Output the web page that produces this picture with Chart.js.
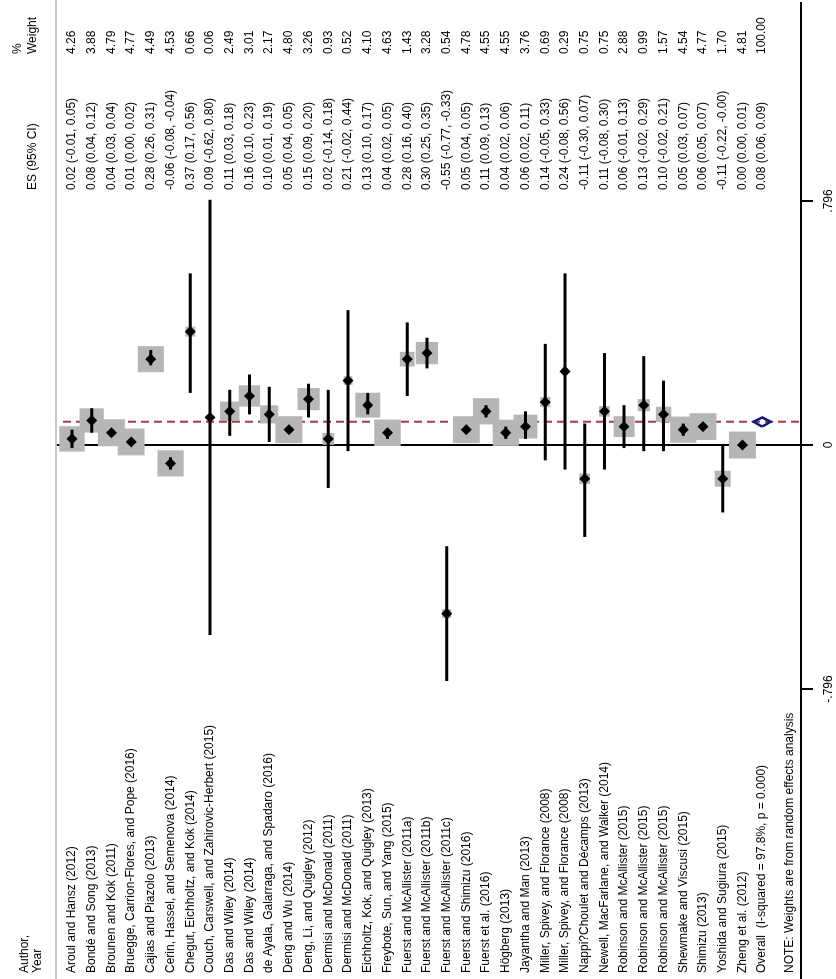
<!DOCTYPE html>
<html>
<head>
<meta charset="utf-8">
<script src="https://cdn.jsdelivr.net/npm/chart.js@4.4.1/dist/chart.umd.min.js"></script>
<style>
  html, body { margin: 0; padding: 0; background: #fff; overflow: hidden; }
  /* the plot is drawn as a normal forest plot and then turned a quarter turn */
  #wrap {
    position: absolute; left: 0; top: 0;
    width: 979px; height: 836px;
    transform-origin: 0 0;
    transform: translateY(979px) rotate(-90deg);
  }
</style>
</head>
<body>
<div id="wrap"><canvas id="forestCanvas" width="979" height="836"></canvas></div>
<script>
// ---- data ----
const studies = [
  'Aroul and Hansz (2012)',
  'Bondé and Song (2013)',
  'Brounen and Kok (2011)',
  'Bruegge, Carrion-Flores, and Pope (2016)',
  'Cajias and Piazolo (2013)',
  'Cerin, Hassel, and Semenova (2014)',
  'Chegut, Eichholtz, and Kok (2014)',
  'Couch, Carswell, and Zahirovic-Herbert (2015)',
  'Das and Wiley (2014)',
  'Das and Wiley (2014)',
  'de Ayala, Galarraga, and Spadaro (2016)',
  'Deng and Wu (2014)',
  'Deng, Li, and Quigley (2012)',
  'Dermisi and McDonald (2011)',
  'Dermisi and McDonald (2011)',
  'Eichholtz, Kok, and Quigley (2013)',
  'Freybote, Sun, and Yang (2015)',
  'Fuerst and McAllister (2011a)',
  'Fuerst and McAllister (2011b)',
  'Fuerst and McAllister (2011c)',
  'Fuerst and Shimizu (2016)',
  'Fuerst et al. (2016)',
  'Högberg (2013)',
  'Jayantha and Man (2013)',
  'Miller, Spivey, and Florance (2008)',
  'Miller, Spivey, and Florance (2008)',
  'Nappi?Choulet and Décamps (2013)',
  'Newell, MacFarlane, and Walker (2014)',
  'Robinson and McAllister (2015)',
  'Robinson and McAllister (2015)',
  'Robinson and McAllister (2015)',
  'Shewmake and Viscusi (2015)',
  'Shimizu (2013)',
  'Yoshida and Sugiura (2015)',
  'Zheng et al. (2012)'
];
const es =      [0.02, 0.08, 0.04, 0.01, 0.28, -0.06, 0.37, 0.09, 0.11, 0.16, 0.10, 0.05, 0.15, 0.02, 0.21, 0.13, 0.04, 0.28, 0.30, -0.55, 0.05, 0.11, 0.04, 0.06, 0.14, 0.24, -0.11, 0.11, 0.06, 0.13, 0.10, 0.05, 0.06, -0.11, 0.00];
const ciLow =   [-0.01, 0.04, 0.03, 0.00, 0.26, -0.08, 0.17, -0.62, 0.03, 0.10, 0.01, 0.04, 0.09, -0.14, -0.02, 0.10, 0.02, 0.16, 0.25, -0.77, 0.04, 0.09, 0.02, 0.02, -0.05, -0.08, -0.30, -0.08, -0.01, -0.02, -0.02, 0.03, 0.05, -0.22, 0.00];
const ciHigh =  [0.05, 0.12, 0.04, 0.02, 0.31, -0.04, 0.56, 0.80, 0.18, 0.23, 0.19, 0.05, 0.20, 0.18, 0.44, 0.17, 0.05, 0.40, 0.35, -0.33, 0.05, 0.13, 0.06, 0.11, 0.33, 0.56, 0.07, 0.30, 0.13, 0.29, 0.21, 0.07, 0.07, -0.002, 0.01];
const weights = [4.26, 3.88, 4.79, 4.77, 4.49, 4.53, 0.66, 0.06, 2.49, 3.01, 2.17, 4.80, 3.26, 0.93, 0.52, 4.10, 4.63, 1.43, 3.28, 0.54, 4.78, 4.55, 4.55, 3.76, 0.69, 0.29, 0.75, 0.75, 2.88, 0.99, 1.57, 4.54, 4.77, 1.70, 4.81];

const overallLabel = 'Overall  (I-squared = 97.8%, p = 0.000)';
const overallES = 0.076;
const overallLow = 0.06;
const overallHigh = 0.09;
const overallWeight = 100;

const tickValues = [-0.796, 0, 0.796];
const tickLabels = ['-.796', '0', '.796'];

const noteText = 'NOTE: Weights are from random effects analysis';

// ---- styling ----
const FONT = '12px "Liberation Sans", Arial, Helvetica, sans-serif';
const BOX_GREY = '#b6b6b6';
const OVERALL_RED = '#a8384a';
const OVERALL_NAVY = '#14147e';

const overallRow = studies.length + 1;

// a row per study, numbered from 1 (top) down
const rows = studies.map((s, i) => i + 1);
const estPoints = es.map((v, i) => ({ x: v, y: rows[i] }));

// CI segments in one dataset, broken by empty points
const ciSegments = [];
ciLow.forEach((lo, i) => {
  ciSegments.push({ x: lo, y: rows[i] }, { x: ciHigh[i], y: rows[i] }, { x: null, y: null });
});

const overallDiamond = [
  { x: overallLow, y: overallRow },
  { x: overallES, y: overallRow - 0.43 },
  { x: overallHigh, y: overallRow },
  { x: overallES, y: overallRow + 0.43 },
  { x: overallLow, y: overallRow }
];

// texts, header line, and the dashed overall line
const forestText = {
  id: 'forestText',
  beforeDatasetsDraw(chart) {
    const { ctx, chartArea, scales } = chart;
    ctx.save();
    ctx.strokeStyle = '#c6c6c6';
    ctx.lineWidth = 2;
    ctx.beginPath();
    ctx.moveTo(0, chartArea.top);
    ctx.lineTo(chart.width, chartArea.top);
    ctx.stroke();

    const xo = scales.x.getPixelForValue(overallES);
    ctx.strokeStyle = OVERALL_RED;
    ctx.setLineDash([8, 5]);
    ctx.beginPath();
    ctx.moveTo(xo, chartArea.top + 7);
    ctx.lineTo(xo, chartArea.bottom);
    ctx.stroke();
    ctx.restore();
  },
  afterDraw(chart) {
    const { ctx, scales } = chart;
    const y = scales.y;
    const colLabel = 6, colCI = 789, colW = 925;
    ctx.save();
    ctx.font = FONT;
    ctx.fillStyle = '#000';
    ctx.textAlign = 'left';
    ctx.textBaseline = 'middle';

    ctx.fillText('Author,', colLabel, 25);
    ctx.fillText('Year', colLabel, 38);
    ctx.fillText('ES (95% CI)', colCI, 33);
    ctx.fillText('%', colW, 18);
    ctx.fillText('Weight', colW, 33);

    const ciText = (v, lo, hi) => `${v.toFixed(2)} (${lo.toFixed(2)}, ${hi.toFixed(2)})`;

    studies.forEach((s, i) => {
      const py = y.getPixelForValue(rows[i]);
      ctx.fillText(s, colLabel, py);
      ctx.fillText(ciText(es[i], ciLow[i], ciHigh[i]), colCI, py);
      ctx.fillText(weights[i].toFixed(2), colW, py);
    });

    const po = y.getPixelForValue(overallRow);
    ctx.fillText(overallLabel, colLabel, po);
    ctx.fillText(ciText(overallES, overallLow, overallHigh), colCI, po);
    ctx.fillText(overallWeight.toFixed(2), colW, po);

    ctx.fillText(noteText, colLabel, y.getPixelForValue(overallRow + 1.4));
    ctx.restore();
  }
};

const ctx = document.getElementById('forestCanvas').getContext('2d');
new Chart(ctx, {
  type: 'scatter',
  data: {
    datasets: [
      {
        // point estimates
        data: estPoints,
        pointStyle: 'rectRot',
        pointRadius: 5.5,
        backgroundColor: '#000',
        borderWidth: 0,
        order: 1
      },
      {
        data: overallDiamond,
        showLine: true,
        borderColor: OVERALL_NAVY,
        borderWidth: 2.5,
        pointRadius: 0,
        tension: 0,
        order: 0
      },
      {
        // confidence intervals
        data: ciSegments,
        showLine: true,
        spanGaps: false,
        borderColor: '#000',
        borderWidth: 3,
        pointRadius: 0,
        order: 2
      },
      {
        // weight boxes, area follows the weight
        data: estPoints,
        pointStyle: 'rect',
        pointRadius: weights.map(w => 8.7 * Math.sqrt(w)),
        backgroundColor: BOX_GREY,
        borderWidth: 0,
        order: 3
      }
    ]
  },
  options: {
    responsive: false,
    animation: false,
    devicePixelRatio: 1,
    events: [],
    layout: { autoPadding: false, padding: { top: 56, left: 0, right: 3, bottom: 0 } },
    plugins: { legend: { display: false }, tooltip: { enabled: false } },
    scales: {
      x: {
        type: 'linear',
        min: -1.742,
        max: 1.442,
        afterBuildTicks: axis => { axis.ticks = tickValues.map(v => ({ value: v })); },
        afterFit: axis => { axis.height = 35; },
        grid: {
          color: c => (c.tick && c.tick.value === 0 ? '#000' : 'rgba(0,0,0,0)'),
          tickColor: '#000',
          lineWidth: 2,
          tickLength: 12
        },
        border: { display: true, color: '#000', width: 2 },
        ticks: {
          autoSkip: false,
          maxRotation: 0,
          padding: 8,
          color: '#000',
          font: { family: '"Liberation Sans", Arial, sans-serif', size: 12 },
          callback: v => tickLabels[tickValues.indexOf(v)]
        }
      },
      y: {
        type: 'linear',
        display: false,
        reverse: true,
        min: 0.19,
        max: 37.97
      }
    }
  },
  plugins: [forestText]
});
</script>
</body>
</html>
